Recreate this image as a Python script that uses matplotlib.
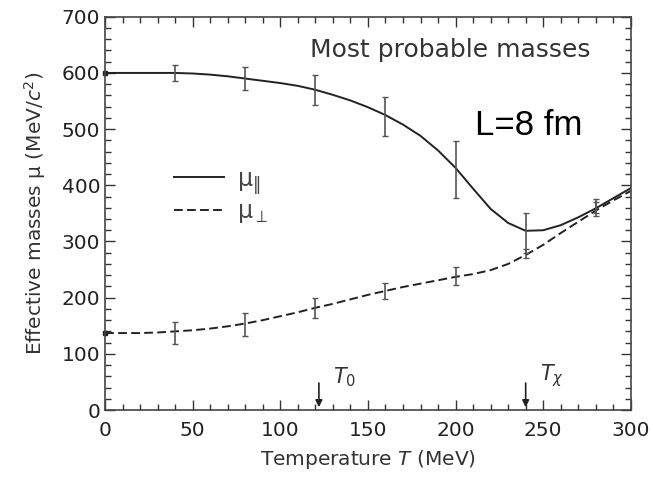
import matplotlib.pyplot as plt
from matplotlib.ticker import MultipleLocator

plt.rcParams["font.family"] = ["DejaVu Sans"]
plt.rcParams["mathtext.fontset"] = "dejavusans"

# smooth curves (every 10 MeV)
curve_T = [0, 10, 20, 30, 40, 50, 60, 70, 80, 90, 100, 110, 120, 130, 140, 150,
           160, 170, 180, 190, 200, 210, 220, 230, 240, 250, 260, 270, 280, 290, 300]
mu_par = [600, 600, 600, 600, 600, 599, 597, 594, 590, 586, 582, 577, 570, 561, 551, 539,
          525, 508, 488, 462, 431, 394, 358, 333, 319, 320, 329, 343, 359, 377, 395]
mu_perp = [137, 137, 137, 138, 140, 142, 145, 149, 154, 160, 167, 174, 182, 189, 197, 205,
           212, 219, 225, 231, 237, 242, 249, 260, 276, 294, 315, 335, 355, 373, 390]

# measured points with errors
pts_T = [40, 80, 120, 160, 200, 240, 280]
par_val = [600, 590, 570, 522, 428, 315, 360]
par_err = [15, 20, 27, 35, 50, 35, 15]
perp_val = [137, 152, 182, 212, 238, 278, 360]
perp_err = [20, 20, 18, 14, 16, 8, 10]

T0 = 122
Tchi = 240

fig = plt.figure(figsize=(6.53, 4.79), dpi=100)
ax = fig.add_axes([0.161, 0.144, 0.805, 0.821])

ax.plot(curve_T, mu_par, color="#222222", lw=1.4, label=r"μ$_{\|}$")
ax.plot(curve_T, mu_perp, color="#222222", lw=1.4, ls=(0, (4.5, 2.2)), label=r"μ$_{\perp}$")
ax.errorbar(pts_T, par_val, yerr=par_err, fmt="none", ecolor="#555555", elinewidth=1.2, capsize=2.5)
ax.errorbar(pts_T, perp_val, yerr=perp_err, fmt="none", ecolor="#555555", elinewidth=1.2, capsize=2.5)
ax.plot([0, 0], [600, 137], "s", color="#222222", ms=3, clip_on=False)

# T0 / Tchi markers
for t in (T0, Tchi):
    ax.annotate("", xy=(t, 0), xytext=(t, 53),
                arrowprops=dict(arrowstyle="-|>", color="#222222", lw=1.2, mutation_scale=10))
ax.text(T0 + 8, 38, r"$T_0$", fontsize=15, color="#333333", va="bottom")
ax.text(Tchi + 8, 38, r"$T_\chi$", fontsize=15, color="#333333", va="bottom")

ax.text(197, 641, "Most probable masses", fontsize=18, color="#333333", ha="center", va="center")
ax.text(242, 506, "L=8 fm", fontsize=25, color="black", ha="center", va="center",
        family="Liberation Sans")

ax.legend(loc="center left", bbox_to_anchor=(0.09, 0.545), frameon=False, fontsize=17,
          handlelength=2.15, labelspacing=0.15, handletextpad=0.55, labelcolor="#444444")

ax.set_xlim(0, 300)
ax.set_ylim(0, 700)
ax.xaxis.set_major_locator(MultipleLocator(50))
ax.xaxis.set_minor_locator(MultipleLocator(10))
ax.yaxis.set_major_locator(MultipleLocator(100))
ax.yaxis.set_minor_locator(MultipleLocator(20))
ax.tick_params(which="both", direction="in", top=True, right=True, colors="#333333",
               labelsize=14.5, labelcolor="#222222")
ax.tick_params(which="major", length=7, width=1)
ax.tick_params(which="minor", length=4, width=1)
ax.tick_params(axis="x", pad=8)
for s in ax.spines.values():
    s.set_color("#444444")
    s.set_linewidth(1.2)

ax.set_xlabel(r"Temperature $T$ (MeV)", fontsize=14.5, color="#333333", labelpad=6)
ax.set_ylabel(r"Effective masses μ (MeV/$c^2$)", fontsize=14.5, color="#333333", labelpad=10)

fig.savefig("out.png", dpi=100)
